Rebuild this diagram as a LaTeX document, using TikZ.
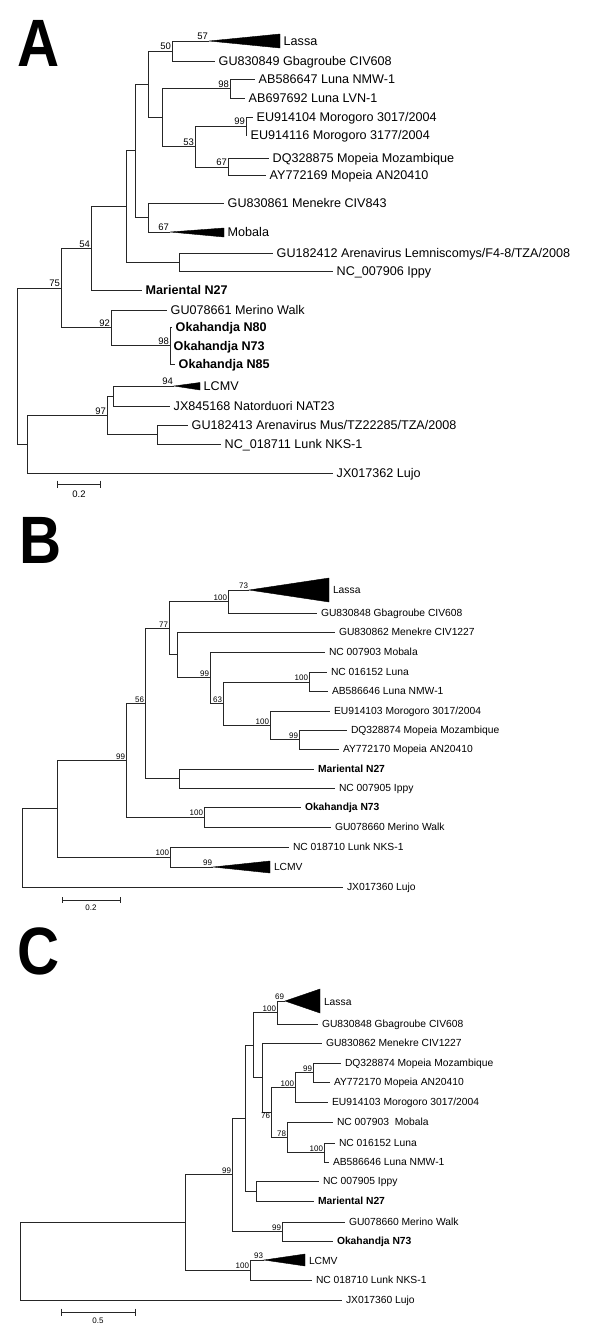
\documentclass[tikz,border=0pt]{standalone}
\usepackage{fontspec}
\usetikzlibrary{calc}
\setmainfont{Liberation Sans}
\begin{document}
\begin{tikzpicture}[x=1pt,y=-1pt,
  br/.style={draw=black!85, line width=0.85pt},
  tri/.style={fill=black, draw=black, line width=0.4pt},
  lA/.style={anchor=base west, inner sep=0pt, font=\fontsize{12.6}{14}\selectfont, xshift=3.5pt, yshift=-4.5pt},
  lB/.style={anchor=base west, inner sep=0pt, font=\fontsize{10.3}{12}\selectfont, xshift=3.8pt, yshift=-3.7pt},
  bsA/.style={anchor=south east, inner sep=0.8pt, font=\fontsize{9.5}{10}\selectfont},
  bsB/.style={anchor=south east, inner sep=0.8pt, font=\fontsize{8}{9}\selectfont},
  big/.style={anchor=base, inner sep=0pt, font=\fontsize{67}{67}\selectfont\bfseries},
  sbar/.style={draw=black!85, line width=0.85pt},
  sblA/.style={anchor=north, inner sep=0pt, font=\fontsize{9.5}{10}\selectfont},
  sblB/.style={anchor=north, inner sep=0pt, font=\fontsize{8}{9}\selectfont}
]
\useasboundingbox (0,0) rectangle (600,1342);

% ================= Panel A =================
\node[big] (letA) at (39,66) {\scalebox{0.87}[1]{A}};

\coordinate (A0) at (17,366.1);
\coordinate (A75) at (61,288);
\coordinate (A23) at (27,444.1);
\coordinate (A54) at (91,248.2);
\coordinate (A92) at (111,327.75);
\coordinate (A110) at (126,206.4);
\coordinate (AMar) at (142,290);
\coordinate (A117) at (135,150.9);
\coordinate (ALI) at (179,262);
\coordinate (A128) at (148,84.25);
\coordinate (AMM) at (148,217.5);
\coordinate (A50) at (172,51);
\coordinate (A141) at (162,117.5);
\coordinate (ALassa) at (209,41);
\coordinate (AGba) at (215,61);
\coordinate (A98L) at (230,88.5);
\coordinate (AL1) at (255,79);
\coordinate (AL2) at (245,98);
\coordinate (A53) at (195,146.5);
\coordinate (A99) at (246,126);
\coordinate (AE1) at (253,117);
\coordinate (AE2) at (247,135);
\coordinate (A67) at (228,167);
\coordinate (ADQ) at (269,158);
\coordinate (AAY) at (266,175);
\coordinate (AMen) at (224,203);
\coordinate (AMob) at (170,232);
\coordinate (AGU) at (273,253);
\coordinate (AIppy) at (333,271);
\coordinate (AMer) at (167,310);
\coordinate (A98O) at (170,345.5);
\coordinate (AN80) at (172,327);
\coordinate (AN73) at (170,346);
\coordinate (AN85) at (175,364);
\coordinate (A97) at (107,415.25);
\coordinate (ALN) at (113,396);
\coordinate (ALCMV) at (174,386);
\coordinate (ANat) at (170,406);
\coordinate (AGL) at (157,434.5);
\coordinate (AGU3) at (188,425);
\coordinate (ANC) at (221,444);
\coordinate (ALujo) at (333,473);

\draw[br] (A0) |- (A75);  \draw[br] (A0) |- (A23);
\draw[br] (A75) |- (A54); \draw[br] (A75) |- (A92);
\draw[br] (A54) |- (A110); \draw[br] (A54) |- (AMar);
\draw[br] (A110) |- (A117); \draw[br] (A110) |- (ALI);
\draw[br] (A117) |- (A128); \draw[br] (A117) |- (AMM);
\draw[br] (A128) |- (A50); \draw[br] (A128) |- (A141);
\draw[br] (A50) |- (ALassa); \draw[br] (A50) |- (AGba);
\draw[br] (A141) |- (A98L); \draw[br] (A141) |- (A53);
\draw[br] (A98L) |- (AL1); \draw[br] (A98L) |- (AL2);
\draw[br] (A53) |- (A99); \draw[br] (A53) |- (A67);
\draw[br] (A99) |- (AE1); \draw[br] (A99) |- (AE2);
\draw[br] (A67) |- (ADQ); \draw[br] (A67) |- (AAY);
\draw[br] (AMM) |- (AMen); \draw[br] (AMM) |- (AMob);
\draw[br] (ALI) |- (AGU); \draw[br] (ALI) |- (AIppy);
\draw[br] (A92) |- (AMer); \draw[br] (A92) |- (A98O);
\draw[br] (A98O) |- (AN80); \draw[br] (A98O) |- (AN73); \draw[br] (A98O) |- (AN85);
\draw[br] (A23) |- (A97); \draw[br] (A23) |- (ALujo);
\draw[br] (A97) |- (ALN); \draw[br] (A97) |- (AGL);
\draw[br] (ALN) |- (ALCMV); \draw[br] (ALN) |- (ANat);
\draw[br] (AGL) |- (AGU3); \draw[br] (AGL) |- (ANC);

% collapsed clades A
\coordinate (ALassaT) at (280,34); \coordinate (ALassaB) at (280,48); \coordinate (ALassaR) at (280,41);
\draw[tri] (ALassa) -- (ALassaT) -- (ALassaB) -- cycle;
\coordinate (AMobT) at (224,228); \coordinate (AMobB) at (224,237); \coordinate (AMobR) at (224,232);
\draw[tri] (AMob) -- (AMobT) -- (AMobB) -- cycle;
\coordinate (ALCMVT) at (200,382.5); \coordinate (ALCMVB) at (200,390); \coordinate (ALCMVR) at (200,386);
\draw[tri] (ALCMV) -- (ALCMVT) -- (ALCMVB) -- cycle;

% leaf labels A
\node[lA] (tALassa) at (ALassaR) {Lassa};
\node[lA] (tAGba) at (AGba) {GU830849 Gbagroube CIV608};
\node[lA] (tAL1) at (AL1) {AB586647 Luna NMW-1};
\node[lA] (tAL2) at (AL2) {AB697692 Luna LVN-1};
\node[lA] (tAE1) at (AE1) {EU914104 Morogoro 3017/2004};
\node[lA] (tAE2) at (AE2) {EU914116 Morogoro 3177/2004};
\node[lA] (tADQ) at (ADQ) {DQ328875 Mopeia Mozambique};
\node[lA] (tAAY) at (AAY) {AY772169 Mopeia AN20410};
\node[lA] (tAMen) at (AMen) {GU830861 Menekre CIV843};
\node[lA] (tAMob) at (AMobR) {Mobala};
\node[lA] (tAGU) at (AGU) {GU182412 Arenavirus Lemniscomys/F4-8/TZA/2008};
\node[lA] (tAIppy) at (AIppy) {NC\_007906 Ippy};
\node[lA] (tAMar) at (AMar) {\bfseries Mariental N27};
\node[lA] (tAMer) at (AMer) {GU078661 Merino Walk};
\node[lA] (tAN80) at (AN80) {\bfseries Okahandja N80};
\node[lA] (tAN73) at (AN73) {\bfseries Okahandja N73};
\node[lA] (tAN85) at (AN85) {\bfseries Okahandja N85};
\node[lA] (tALCMV) at (ALCMVR) {LCMV};
\node[lA] (tANat) at (ANat) {JX845168 Natorduori NAT23};
\node[lA] (tAGU3) at (AGU3) {GU182413 Arenavirus Mus/TZ22285/TZA/2008};
\node[lA] (tANC) at (ANC) {NC\_018711 Lunk NKS-1};
\node[lA] (tALujo) at (ALujo) {JX017362 Lujo};

% bootstrap A
\node[bsA] (bA57) at (ALassa) {57};
\node[bsA] (bA50) at (A50) {50};
\node[bsA] (bA98L) at (A98L) {98};
\node[bsA] (bA99) at (A99) {99};
\node[bsA] (bA53) at (A53) {53};
\node[bsA] (bA67) at (A67) {67};
\node[bsA] (bA67m) at (AMob) {67};
\node[bsA] (bA54) at (A54) {54};
\node[bsA] (bA75) at (A75) {75};
\node[bsA] (bA92) at (A92) {92};
\node[bsA] (bA98O) at (A98O) {98};
\node[bsA] (bA94) at (ALCMV) {94};
\node[bsA] (bA97) at (A97) {97};

% scale A
\coordinate (sA1) at (57,484); \coordinate (sA2) at (100,484);
\draw[sbar] (sA1) -- (sA2);
\draw[sbar] ($(sA1)+(0,-3.5)$) -- ($(sA1)+(0,3.5)$);
\draw[sbar] ($(sA2)+(0,-3.5)$) -- ($(sA2)+(0,3.5)$);
\node[sblA] (tsA) at (79,491) {0.2};

% ================= Panel B =================
\node[big] (letB) at (41,563) {\scalebox{0.87}[1]{B}};

\coordinate (B0) at (22,847.8);
\coordinate (B50) at (57,808.6);
\coordinate (B110) at (126,760.2);
\coordinate (B56) at (145,703.4);
\coordinate (B77) at (169,628.2);
\coordinate (B100L) at (228,601.5);
\coordinate (B154) at (177,654.9);
\coordinate (B99) at (210,677.8);
\coordinate (B63) at (223,703.6);
\coordinate (BLuna) at (309,682);
\coordinate (B100M) at (270,725.25);
\coordinate (B99M) at (299,739.5);
\coordinate (BMI) at (179,778.5);
\coordinate (BOM) at (204,817);
\coordinate (BLL) at (170,857);
\coordinate (BLassa) at (249,590);
\coordinate (BGba) at (317,613);
\coordinate (BMen) at (335,632);
\coordinate (BMob) at (325,652);
\coordinate (BLu1) at (327,672);
\coordinate (BLu2) at (328,691);
\coordinate (BEU) at (330,711);
\coordinate (BDQ) at (347,730);
\coordinate (BAY) at (339,749);
\coordinate (BMar) at (314,769);
\coordinate (BIppy) at (335,788);
\coordinate (BOk) at (301,807);
\coordinate (BMer) at (331,827);
\coordinate (BLunk) at (289,847);
\coordinate (BLCMV) at (213,867);
\coordinate (BLujo) at (343,887);

\draw[br] (B0) |- (B50); \draw[br] (B0) |- (BLujo);
\draw[br] (B50) |- (B110); \draw[br] (B50) |- (BLL);
\draw[br] (B110) |- (B56); \draw[br] (B110) |- (BOM);
\draw[br] (B56) |- (B77); \draw[br] (B56) |- (BMI);
\draw[br] (B77) |- (B100L); \draw[br] (B77) |- (B154);
\draw[br] (B100L) |- (BLassa); \draw[br] (B100L) |- (BGba);
\draw[br] (B154) |- (BMen); \draw[br] (B154) |- (B99);
\draw[br] (B99) |- (BMob); \draw[br] (B99) |- (B63);
\draw[br] (B63) |- (BLuna); \draw[br] (B63) |- (B100M);
\draw[br] (BLuna) |- (BLu1); \draw[br] (BLuna) |- (BLu2);
\draw[br] (B100M) |- (BEU); \draw[br] (B100M) |- (B99M);
\draw[br] (B99M) |- (BDQ); \draw[br] (B99M) |- (BAY);
\draw[br] (BMI) |- (BMar); \draw[br] (BMI) |- (BIppy);
\draw[br] (BOM) |- (BOk); \draw[br] (BOM) |- (BMer);
\draw[br] (BLL) |- (BLunk); \draw[br] (BLL) |- (BLCMV);

\coordinate (BLassaT) at (329,578); \coordinate (BLassaB) at (329,602); \coordinate (BLassaR) at (329,590);
\draw[tri] (BLassa) -- (BLassaT) -- (BLassaB) -- cycle;
\coordinate (BLCMVT) at (270,861); \coordinate (BLCMVB) at (270,873); \coordinate (BLCMVR) at (270,867);
\draw[tri] (BLCMV) -- (BLCMVT) -- (BLCMVB) -- cycle;

\node[lB] (tBLassa) at (BLassaR) {Lassa};
\node[lB] (tBGba) at (BGba) {GU830848 Gbagroube CIV608};
\node[lB] (tBMen) at (BMen) {GU830862 Menekre CIV1227};
\node[lB] (tBMob) at (BMob) {NC 007903 Mobala};
\node[lB] (tBLu1) at (BLu1) {NC 016152 Luna};
\node[lB] (tBLu2) at (BLu2) {AB586646 Luna NMW-1};
\node[lB] (tBEU) at (BEU) {EU914103 Morogoro 3017/2004};
\node[lB] (tBDQ) at (BDQ) {DQ328874 Mopeia Mozambique};
\node[lB] (tBAY) at (BAY) {AY772170 Mopeia AN20410};
\node[lB] (tBMar) at (BMar) {\bfseries Mariental N27};
\node[lB] (tBIppy) at (BIppy) {NC 007905 Ippy};
\node[lB] (tBOk) at (BOk) {\bfseries Okahandja N73};
\node[lB] (tBMer) at (BMer) {GU078660 Merino Walk};
\node[lB] (tBLunk) at (BLunk) {NC 018710 Lunk NKS-1};
\node[lB] (tBLCMV) at (BLCMVR) {LCMV};
\node[lB] (tBLujo) at (BLujo) {JX017360 Lujo};

\node[bsB] (bB73) at (BLassa) {73};
\node[bsB] (bB100L) at (B100L) {100};
\node[bsB] (bB77) at (B77) {77};
\node[bsB] (bB99) at (B99) {99};
\node[bsB] (bB63) at (B63) {63};
\node[bsB] (bBLuna) at (BLuna) {100};
\node[bsB] (bB100M) at (B100M) {100};
\node[bsB] (bB99M) at (B99M) {99};
\node[bsB] (bB56) at (B56) {56};
\node[bsB] (bB110) at (B110) {99};
\node[bsB] (bBOM) at (BOM) {100};
\node[bsB] (bBLL) at (BLL) {100};
\node[bsB] (bBLCMV) at (BLCMV) {99};

\coordinate (sB1) at (62,900); \coordinate (sB2) at (120,900);
\draw[sbar] (sB1) -- (sB2);
\draw[sbar] ($(sB1)+(0,-3)$) -- ($(sB1)+(0,3)$);
\draw[sbar] ($(sB2)+(0,-3)$) -- ($(sB2)+(0,3)$);
\node[sblB] (tsB) at (91,905) {0.2};

% ================= Panel C =================
\node[big] (letC) at (39,974) {\scalebox{0.87}[1]{C}};

\coordinate (C0) at (20,1261.2);
\coordinate (C161) at (185,1222.4);
\coordinate (C99) at (232,1174.75);
\coordinate (C213) at (245,1118);
\coordinate (C221) at (253,1045.1);
\coordinate (C100L) at (277,1012.5);
\coordinate (C228) at (262,1077.6);
\coordinate (C76) at (271,1112.25);
\coordinate (C100M) at (295,1087.25);
\coordinate (C99M) at (313,1072.5);
\coordinate (C78) at (287,1137.25);
\coordinate (CLuna) at (324,1152.5);
\coordinate (CIM) at (256,1191);
\coordinate (COM) at (282,1231.5);
\coordinate (CLL) at (250,1270);
\coordinate (CLassa) at (285,1001);
\coordinate (CGba) at (318,1024);
\coordinate (CMen) at (322,1043);
\coordinate (CDQ) at (341,1063);
\coordinate (CAY) at (330,1082);
\coordinate (CEU) at (328,1102);
\coordinate (CMob) at (333,1122);
\coordinate (CLu1) at (335,1143);
\coordinate (CLu2) at (329,1162);
\coordinate (CIppy) at (319,1181);
\coordinate (CMar) at (314,1201);
\coordinate (CMer) at (345,1222);
\coordinate (COk) at (333,1241);
\coordinate (CLCMV) at (264,1260);
\coordinate (CLunk) at (312,1280);
\coordinate (CLujo) at (342,1300);

\draw[br] (C0) |- (C161); \draw[br] (C0) |- (CLujo);
\draw[br] (C161) |- (C99); \draw[br] (C161) |- (CLL);
\draw[br] (C99) |- (C213); \draw[br] (C99) |- (COM);
\draw[br] (C213) |- (C221); \draw[br] (C213) |- (CIM);
\draw[br] (C221) |- (C100L); \draw[br] (C221) |- (C228);
\draw[br] (C100L) |- (CLassa); \draw[br] (C100L) |- (CGba);
\draw[br] (C228) |- (CMen); \draw[br] (C228) |- (C76);
\draw[br] (C76) |- (C100M); \draw[br] (C76) |- (C78);
\draw[br] (C100M) |- (C99M); \draw[br] (C100M) |- (CEU);
\draw[br] (C99M) |- (CDQ); \draw[br] (C99M) |- (CAY);
\draw[br] (C78) |- (CMob); \draw[br] (C78) |- (CLuna);
\draw[br] (CLuna) |- (CLu1); \draw[br] (CLuna) |- (CLu2);
\draw[br] (CIM) |- (CIppy); \draw[br] (CIM) |- (CMar);
\draw[br] (COM) |- (CMer); \draw[br] (COM) |- (COk);
\draw[br] (CLL) |- (CLCMV); \draw[br] (CLL) |- (CLunk);

\coordinate (CLassaT) at (320,989); \coordinate (CLassaB) at (320,1013); \coordinate (CLassaR) at (320,1002);
\draw[tri] (CLassa) -- (CLassaT) -- (CLassaB) -- cycle;
\coordinate (CLCMVT) at (305,1254); \coordinate (CLCMVB) at (305,1266); \coordinate (CLCMVR) at (305,1261);
\draw[tri] (CLCMV) -- (CLCMVT) -- (CLCMVB) -- cycle;

\node[lB] (tCLassa) at (CLassaR) {Lassa};
\node[lB] (tCGba) at (CGba) {GU830848 Gbagroube CIV608};
\node[lB] (tCMen) at (CMen) {GU830862 Menekre CIV1227};
\node[lB] (tCDQ) at (CDQ) {DQ328874 Mopeia Mozambique};
\node[lB] (tCAY) at (CAY) {AY772170 Mopeia AN20410};
\node[lB] (tCEU) at (CEU) {EU914103 Morogoro 3017/2004};
\node[lB] (tCMob) at (CMob) {NC 007903\ \ Mobala};
\node[lB] (tCLu1) at (CLu1) {NC 016152 Luna};
\node[lB] (tCLu2) at (CLu2) {AB586646 Luna NMW-1};
\node[lB] (tCIppy) at (CIppy) {NC 007905 Ippy};
\node[lB] (tCMar) at (CMar) {\bfseries Mariental N27};
\node[lB] (tCMer) at (CMer) {GU078660 Merino Walk};
\node[lB] (tCOk) at (COk) {\bfseries Okahandja N73};
\node[lB] (tCLCMV) at (CLCMVR) {LCMV};
\node[lB] (tCLunk) at (CLunk) {NC 018710 Lunk NKS-1};
\node[lB] (tCLujo) at (CLujo) {JX017360 Lujo};

\node[bsB] (bC69) at (CLassa) {69};
\node[bsB] (bC100L) at (C100L) {100};
\node[bsB] (bC99M) at (C99M) {99};
\node[bsB] (bC100M) at (C100M) {100};
\node[bsB, anchor=north east] (bC76) at (C76) {76};
\node[bsB] (bC78) at (C78) {78};
\node[bsB] (bCLuna) at (CLuna) {100};
\node[bsB] (bC99) at (C99) {99};
\node[bsB] (bCOM) at (COM) {99};
\node[bsB] (bC93) at (CLCMV) {93};
\node[bsB] (bCLL) at (CLL) {100};

\coordinate (sC1) at (61,1312); \coordinate (sC2) at (135,1312);
\draw[sbar] (sC1) -- (sC2);
\draw[sbar] ($(sC1)+(0,-3.5)$) -- ($(sC1)+(0,3.5)$);
\draw[sbar] ($(sC2)+(0,-3.5)$) -- ($(sC2)+(0,3.5)$);
\node[sblB] (tsC) at (98,1318) {0.5};
\end{tikzpicture}
\end{document}
